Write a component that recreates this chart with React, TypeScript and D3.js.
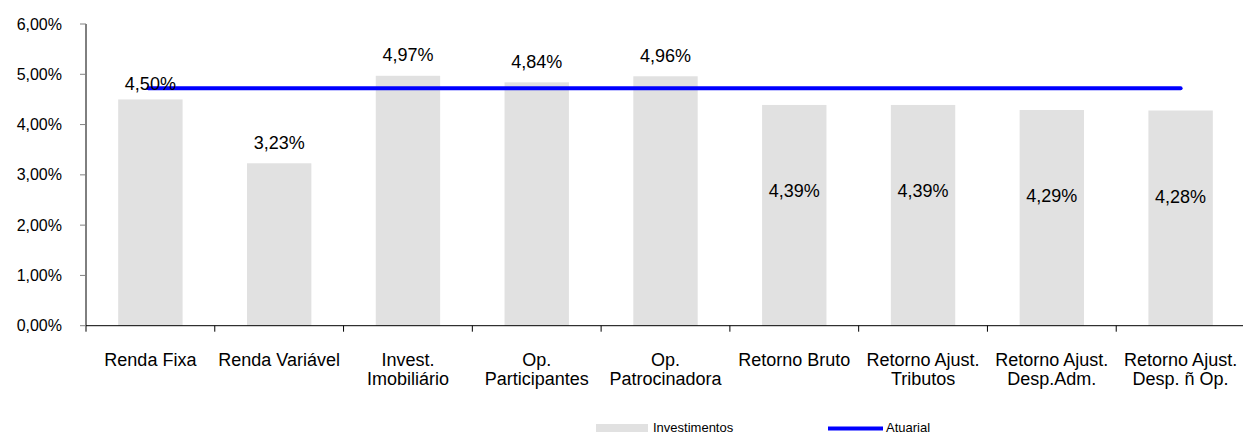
import React, { useEffect, useRef } from 'react';
import * as d3 from 'd3';

// categorias e valores
const categories = [
  ['Renda Fixa'],
  ['Renda Variável'],
  ['Invest.', 'Imobiliário'],
  ['Op.', 'Participantes'],
  ['Op.', 'Patrocinadora'],
  ['Retorno Bruto'],
  ['Retorno Ajust.', 'Tributos'],
  ['Retorno Ajust.', 'Desp.Adm.'],
  ['Retorno Ajust.', 'Desp. ñ Op.'],
];
const investimentos = [4.5, 3.23, 4.97, 4.84, 4.96, 4.39, 4.39, 4.29, 4.28];
const labelInside = [false, false, false, false, false, true, true, true, true];
const atuarial = 4.72;
const yTicks = [0, 1, 2, 3, 4, 5, 6];

const fmt = (v: number) => v.toFixed(2).replace('.', ',') + '%';

export default function App() {
  const ref = useRef<SVGSVGElement>(null);

  useEffect(() => {
    const svg = d3.select(ref.current);
    svg.selectAll('*').remove();

    const left = 86, right = 1245, top = 24, bottom = 325.7;
    const font = 'Liberation Sans, Arial, sans-serif';

    const x = d3.scaleBand<number>()
      .domain(d3.range(categories.length))
      .range([left, right])
      .paddingInner(0.5)
      .paddingOuter(0.25);
    const band = d3.scaleBand<number>()
      .domain(d3.range(categories.length))
      .range([left, right]);
    const y = d3.scaleLinear().domain([0, 6]).range([bottom, top]);

    // barras
    svg.append('g').selectAll('rect')
      .data(investimentos)
      .enter().append('rect')
      .attr('x', (d, i) => x(i)!)
      .attr('width', x.bandwidth())
      .attr('y', d => y(d))
      .attr('height', d => bottom - y(d))
      .attr('fill', '#e1e1e1');

    // eixo y
    const yAxis = svg.append('g');
    yAxis.append('line')
      .attr('x1', left).attr('x2', left)
      .attr('y1', y(6)).attr('y2', bottom + 6)
      .attr('stroke', '#000');
    yAxis.selectAll('.tick')
      .data(yTicks)
      .enter().append('line')
      .attr('x1', left - 6).attr('x2', left)
      .attr('y1', d => y(d)).attr('y2', d => y(d))
      .attr('stroke', '#808080');
    yAxis.selectAll('text')
      .data(yTicks)
      .enter().append('text')
      .attr('x', left - 24)
      .attr('y', d => y(d))
      .attr('dy', '0.35em')
      .attr('text-anchor', 'end')
      .attr('font-family', font)
      .attr('font-size', 16)
      .text(d => fmt(d));

    // eixo x
    const xAxis = svg.append('g');
    xAxis.append('line')
      .attr('x1', left).attr('x2', 1243)
      .attr('y1', bottom).attr('y2', bottom)
      .attr('stroke', '#000');
    xAxis.selectAll('.tick')
      .data(d3.range(1, categories.length))
      .enter().append('line')
      .attr('x1', i => band(i)!).attr('x2', i => band(i)!)
      .attr('y1', bottom).attr('y2', bottom + 6)
      .attr('stroke', '#000');
    const cat = xAxis.selectAll('.cat')
      .data(categories)
      .enter().append('text')
      .attr('text-anchor', 'middle')
      .attr('font-family', font)
      .attr('font-size', 18)
      .attr('fill', '#000');
    cat.selectAll('tspan')
      .data((d, i) => d.map(t => ({ t, i })))
      .enter().append('tspan')
      .attr('x', d => band(d.i)! + band.bandwidth() / 2)
      .attr('y', (d, j) => bottom + 40 + j * 19.5)
      .text(d => d.t);

    // linha atuarial
    svg.append('line')
      .attr('x1', band(0)! + band.bandwidth() / 2 - 2)
      .attr('x2', band(categories.length - 1)! + band.bandwidth() / 2)
      .attr('y1', y(atuarial)).attr('y2', y(atuarial))
      .attr('stroke', '#0000ff')
      .attr('stroke-width', 4)
      .attr('stroke-linecap', 'round');

    // rótulos
    svg.append('g').selectAll('text')
      .data(investimentos)
      .enter().append('text')
      .attr('x', (d, i) => x(i)! + x.bandwidth() / 2)
      .attr('y', (d, i) => labelInside[i] ? y(d) + 86 : y(d) - (i === 0 ? 16 : 21))
      .attr('dy', '0.35em')
      .attr('text-anchor', 'middle')
      .attr('font-family', font)
      .attr('font-size', 18)
      .attr('fill', '#000')
      .text(d => fmt(d));

    // legenda
    const leg = svg.append('g').attr('font-family', font).attr('font-size', 13);
    leg.append('rect')
      .attr('x', 596).attr('y', 424).attr('width', 52).attr('height', 10)
      .attr('fill', '#e1e1e1');
    leg.append('text').attr('x', 653).attr('y', 432).text('Investimentos');
    leg.append('line')
      .attr('x1', 828).attr('x2', 883).attr('y1', 428.5).attr('y2', 428.5)
      .attr('stroke', '#0000ff').attr('stroke-width', 4);
    leg.append('text').attr('x', 886).attr('y', 432).text('Atuarial');
  }, []);

  return (
    <svg ref={ref} width={1243} height={432}
      style={{ position: 'absolute', left: 0, top: 0, background: '#fff' }} />
  );
}
